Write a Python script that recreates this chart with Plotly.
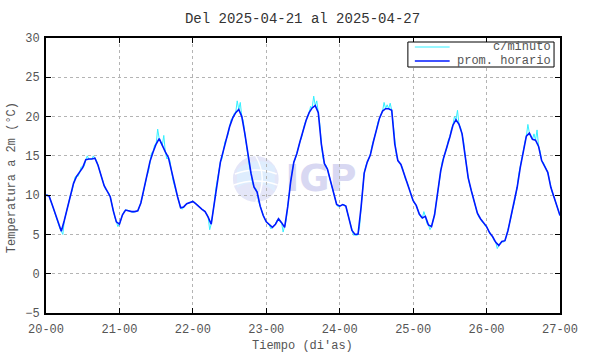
import base64
import plotly.graph_objects as go

# ---------------- data ----------------
# hourly mean temperature, one value per hour from 2025-04-20 00h to 2025-04-27 00h
prom_horario = [
    10.0, 9.9, 8.8, 7.6, 6.3, 5.4, 6.8, 8.4, 10.0, 11.5, 12.4, 12.9, 13.5, 14.5, 14.6, 14.6, 14.7, 13.8, 12.5, 11.2, 10.5, 9.8, 8.0, 6.6,
    6.3, 7.5, 8.1, 8.0, 7.9, 7.9, 8.0, 9.0, 10.7, 12.5, 14.3, 15.5, 16.5, 17.2, 16.3, 15.5, 14.8, 13.0, 11.2, 9.8, 8.4, 8.5, 8.9, 9.1,
    9.2, 8.9, 8.5, 8.2, 7.9, 7.2, 6.3, 9.0, 12.0, 14.2, 15.7, 17.2, 18.7, 19.8, 20.5, 20.9, 20.0, 17.8, 15.0, 12.8, 11.0, 10.4, 8.6, 7.4,
    6.6, 6.2, 5.9, 6.3, 7.0, 6.5, 5.9, 8.5, 11.8, 14.2, 15.3, 16.8, 18.2, 19.5, 20.5, 21.1, 21.4, 20.5, 16.5, 14.0, 13.3, 11.8, 10.4, 8.8,
    8.6, 8.8, 8.6, 7.0, 5.5, 5.0, 5.05, 8.5, 12.8, 14.2, 15.1, 16.8, 18.3, 19.8, 20.7, 21.0, 21.0, 20.8, 16.5, 14.4, 13.9, 12.8, 11.7, 10.5,
    9.3, 8.7, 7.6, 7.1, 7.3, 6.2, 6.0, 7.5, 10.2, 13.1, 14.8, 16.0, 17.4, 18.9, 19.6, 19.0, 17.8, 15.0, 12.2, 10.6, 9.0, 7.7, 7.0, 6.5,
    6.0, 5.2, 4.7, 4.0, 3.6, 4.1, 4.2, 5.5, 7.2, 8.9, 11.0, 13.5, 15.6, 17.5, 17.9, 17.1, 17.0, 16.2, 14.4, 13.7, 12.9, 11.0, 9.8, 8.5,
    7.4,
]
# per-minute series, sampled at the half hours (between the hourly points)
c_minuto_medias_horas = [
    10.0, 9.4, 8.2, 6.9, 5.8, 5.0, 7.6, 9.6, 10.5, 12.3, 12.4, 13.6, 13.7, 15.0, 14.6, 15.0, 14.4, 13.0, 11.9, 10.7, 10.3, 8.8, 7.2, 6.0,
    7.0, 7.9, 8.1, 7.9, 7.8, 7.9, 8.4, 9.8, 11.9, 13.0, 15.4, 16.4, 18.4, 16.6, 17.6, 14.6, 14.4, 11.9, 10.5, 9.0, 8.2, 8.7, 9.0, 9.2,
    9.1, 8.7, 8.3, 8.1, 7.6, 5.6, 7.5, 10.8, 13.5, 14.6, 16.8, 17.7, 19.6, 20.4, 22.0, 21.8, 19.4, 16.0, 13.6, 11.5, 10.9, 9.2, 7.9, 6.9,
    6.4, 5.7, 6.0, 6.8, 6.6, 5.3, 6.8, 10.5, 13.2, 14.6, 16.3, 17.3, 19.0, 20.0, 21.3, 22.6, 22.0, 19.0, 14.8, 13.8, 12.5, 11.2, 9.4, 8.5,
    8.8, 8.8, 7.8, 6.2, 4.9, 4.8, 6.0, 11.2, 13.7, 14.6, 16.2, 17.6, 19.3, 20.4, 21.8, 21.5, 21.7, 19.0, 15.2, 14.2, 13.5, 12.0, 11.2, 9.8,
    8.9, 8.1, 7.2, 7.9, 6.4, 5.6, 6.6, 8.9, 11.9, 14.3, 15.3, 17.0, 18.4, 20.0, 20.8, 18.6, 16.8, 13.4, 11.3, 9.6, 8.3, 7.2, 6.6, 6.1,
    5.6, 4.9, 4.2, 3.2, 3.9, 4.0, 4.8, 6.4, 8.2, 10.0, 12.6, 14.6, 16.7, 19.0, 17.4, 17.8, 18.3, 15.6, 14.2, 13.2, 12.0, 10.3, 9.2, 7.9,
]
dia_inicio = 20
tick_dias = [20, 21, 22, 23, 24, 25, 26, 27]
tick_textos = ["20-00", "21-00", "22-00", "23-00", "24-00", "25-00", "26-00", "27-00"]
titulo = "Del 2025-04-21 al 2025-04-27"

# ---------------- build series ----------------
x_hor = [dia_inicio + h / 24 for h in range(len(prom_horario))]
x_min, y_min = [], []
for h, v in enumerate(prom_horario):
    x_min.append(dia_inicio + h / 24)
    y_min.append(v)
    if h < len(c_minuto_medias_horas):
        x_min.append(dia_inicio + (h + 0.5) / 24)
        y_min.append(c_minuto_medias_horas[h])

FONT = "Liberation Mono, Courier New, monospace"
GRAY = "#555555"

fig = go.Figure()
fig.add_trace(go.Scatter(x=x_min, y=y_min, mode="lines", name="c/minuto",
                         line=dict(color="#33f0ff", width=1), showlegend=False))
fig.add_trace(go.Scatter(x=x_hor, y=prom_horario, mode="lines", name="prom. horario",
                         line=dict(color="#0018ff", width=1.6), showlegend=False))

axis_common = dict(showline=True, linecolor="black", linewidth=2, mirror="allticks",
                   ticks="inside", ticklen=5, tickcolor="black", tickwidth=1,
                   showgrid=True, gridcolor="#b4b4b4", griddash="dot", gridwidth=1,
                   zeroline=False, tickfont=dict(family=FONT, size=12, color=GRAY))

fig.update_xaxes(range=[20, 27], tickvals=tick_dias, ticktext=tick_textos, ticklabelstandoff=4, **axis_common)
fig.update_yaxes(range=[-5, 30], dtick=5, ticklabelstandoff=2, **axis_common)

# watermark (IGP logo) as an SVG image below the traces
svg = """<svg xmlns='http://www.w3.org/2000/svg' width='135' height='53' viewBox='0 0 135 53'>
<circle cx='27' cy='27' r='23' fill='#e4e6f8'/>
<path d='M8 18 A30 30 0 0 1 46 14 L46 40 A30 30 0 0 0 8 36 Z' fill='#deedfd'/>
<path d='M6 22 Q27 14 48 22' stroke='white' stroke-width='1.5' fill='none'/>
<path d='M5 33 Q27 25 49 33' stroke='white' stroke-width='1.5' fill='none'/>
<path d='M27 4 Q40 27 27 50' stroke='white' stroke-width='1.5' fill='none'/>
<text x='57' y='39' font-family='DejaVu Sans' font-weight='bold' font-size='37' fill='#d8d8f2'>IGP</text>
</svg>"""
src = "data:image/svg+xml;base64," + base64.b64encode(svg.encode()).decode()

L, R, T, B = 46, 563, 38, 313
W, H = R - L, B - T
def px(x): return (x - L) / W
def py(y): return (B - y) / H

fig.add_layout_image(dict(source=src, xref="paper", yref="paper", x=px(230), y=py(152),
                          sizex=135 / W, sizey=53 / H, sizing="stretch",
                          xanchor="left", yanchor="top", layer="below"))

# legend drawn in gnuplot style (text right aligned)
fig.add_shape(type="rect", xref="paper", yref="paper", x0=px(410), x1=px(557), y0=py(67), y1=py(42),
              line=dict(color="black", width=1), fillcolor="white", layer="above")
fig.add_shape(type="line", xref="paper", yref="paper", x0=px(417), x1=px(452), y0=py(47), y1=py(47),
              line=dict(color="#33f0ff", width=1))
fig.add_shape(type="line", xref="paper", yref="paper", x0=px(417), x1=px(452), y0=py(61), y1=py(61),
              line=dict(color="#0018ff", width=1.6))
for txt, yy in (("c/minuto", 47), ("prom. horario", 61)):
    fig.add_annotation(text=txt, xref="paper", yref="paper", x=px(556), y=py(yy),
                       xanchor="right", yanchor="middle", showarrow=False,
                       font=dict(family=FONT, size=12, color=GRAY))

fig.add_annotation(text="Temperatura a 2m (°C)", xref="paper", yref="paper", x=px(12), y=py(178),
                   textangle=-90, xanchor="center", yanchor="middle", showarrow=False,
                   font=dict(family=FONT, size=12, color=GRAY))
fig.add_annotation(text="Tiempo (di'as)", xref="paper", yref="paper", x=px(304), y=py(346),
                   xanchor="center", yanchor="middle", showarrow=False,
                   font=dict(family=FONT, size=12, color=GRAY))

fig.update_layout(
    width=590, height=354,
    margin=dict(l=L, r=590 - R, t=T, b=354 - B),
    paper_bgcolor="white", plot_bgcolor="rgba(0,0,0,0)",
    title=dict(text=titulo, x=px(304), xref="paper", y=1 - 18 / 354, yanchor="middle",
               font=dict(family=FONT, size=14, color="#333333")),
    showlegend=False,
)

fig.write_html("out.html", config={"displayModeBar": False},
               post_script="document.body.style.margin='0';document.body.style.overflow='hidden';")
